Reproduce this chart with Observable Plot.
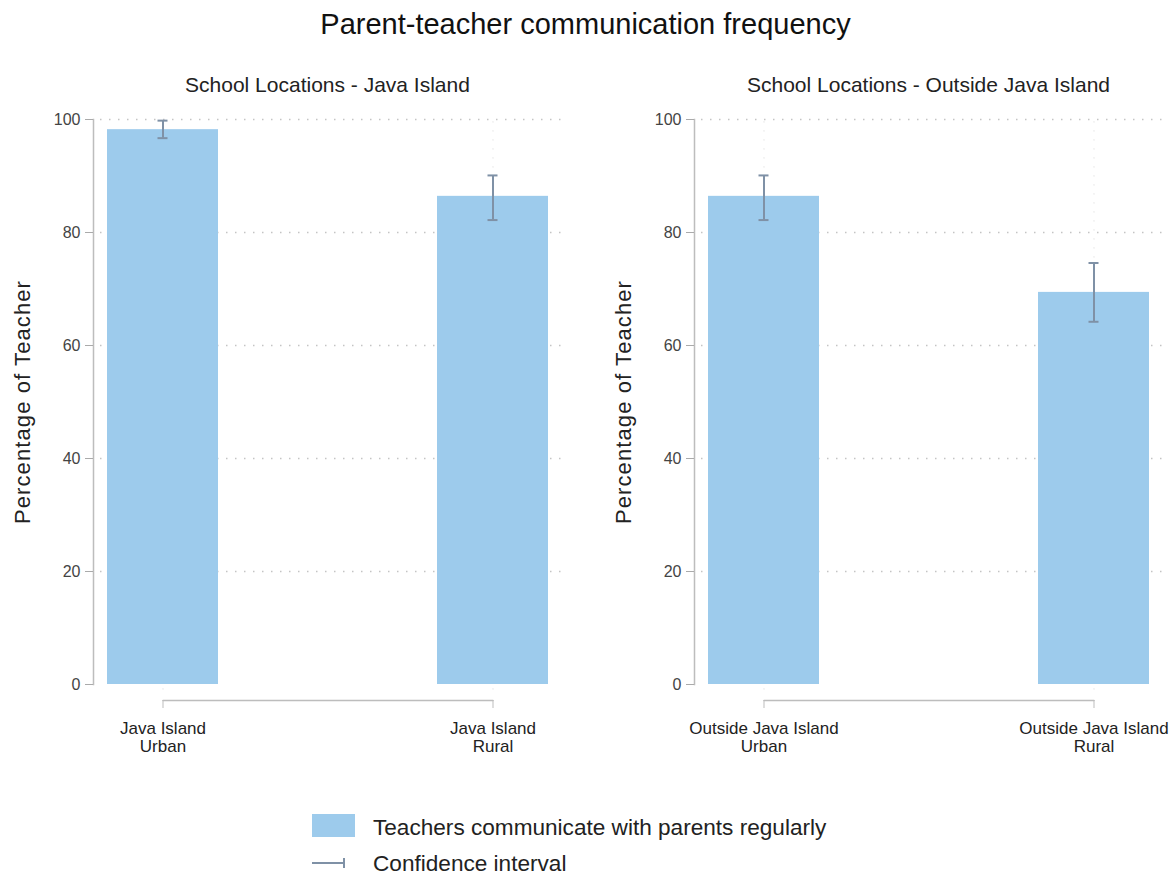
<!DOCTYPE html>
<html>
<head>
<meta charset="utf-8">
<script src="https://cdn.jsdelivr.net/npm/d3@7"></script>
<script src="https://cdn.jsdelivr.net/npm/@observablehq/plot@0.6"></script>
<style>
  body { margin: 0; background: #fff; font-family: "Liberation Sans", Arial, sans-serif; }
  #wrap { position: relative; width: 1171px; height: 876px; overflow: hidden; background: #fff; }
  #title { position: absolute; left: 0; top: 8px; width: 1171px; text-align: center; font-size: 29px; color: #111; line-height: normal; }
  .panel { position: absolute; top: 60px; width: 580px; height: 720px; }
  .panel svg { max-width: none !important; width: 580px; height: 720px; }
  #legend { position: absolute; left: 0; top: 800px; }
</style>
</head>
<body>
<div id="wrap">
  <div id="title">Parent-teacher communication frequency</div>
  <div class="panel" id="p1" style="left:0px"></div>
  <div class="panel" id="p2" style="left:601px"></div>
  <div id="legend"></div>
</div>
<script>
// ---- data ----
const panelTitles = ["School Locations - Java Island", "School Locations - Outside Java Island"];
const javaCategories = ["Java Island\nUrban", "Java Island\nRural"];
const javaValues = [98.2, 86.4];
const javaLower = [96.7, 82.2];
const javaUpper = [99.8, 90.1];
const outsideCategories = ["Outside Java Island\nUrban", "Outside Java Island\nRural"];
const outsideValues = [86.4, 69.4];
const outsideLower = [82.2, 64.2];
const outsideUpper = [90.1, 74.6];
const yTicks = [0, 20, 40, 60, 80, 100];
const yLabel = "Percentage of Teacher";
const legendLabels = ["Teachers communicate with parents regularly", "Confidence interval"];

// ---- styles ----
const barColor = "#9dcbec";
const ciColor = "#7f91a6";
const gridColor = "#c4c4c4";
const axisColor = "#bdbdbd";
const font = "'Liberation Sans', Arial, sans-serif";

function panel(title, cats, vals, lo, hi) {
  const data = cats.map((c, i) => ({cat: c, v: vals[i], lo: lo[i], hi: hi[i]}));
  const svg = Plot.plot({
    width: 580, height: 720,
    marginLeft: 93, marginRight: 19, marginTop: 59, marginBottom: 96,
    style: {fontFamily: font, fontSize: "16px", color: "#444", background: "transparent", overflow: "visible"},
    x: {domain: cats, paddingInner: 0.664, paddingOuter: 0.041, label: null},
    y: {domain: [0, 100], label: null},
    marks: [
      Plot.ruleY(yTicks.filter(t => t > 0), {insetLeft: 7, stroke: gridColor, strokeWidth: 1.3, strokeDasharray: "1.5,7.5"}),
      Plot.ruleX(data, {x: "cat", y1: () => -1, y2: () => 100, stroke: gridColor, strokeOpacity: 0.45, strokeWidth: 1, strokeDasharray: "1.5,7.5"}),
      Plot.barY(data, {x: "cat", y: "v", fill: barColor}),
      Plot.ruleX(data, {x: "cat", y1: "lo", y2: "hi", stroke: ciColor, strokeWidth: 2}),
      Plot.tickY(data, {x: "cat", y: "lo", insetLeft: 50.5, insetRight: 50.5, stroke: ciColor, strokeWidth: 2}),
      Plot.tickY(data, {x: "cat", y: "hi", insetLeft: 50.5, insetRight: 50.5, stroke: ciColor, strokeWidth: 2}),
      Plot.frame({anchor: "left", stroke: axisColor, strokeWidth: 1.5}),
      Plot.axisY(yTicks, {tickSize: 8, tickPadding: 5, stroke: "#aaa", fill: "#444", fontSize: 16, label: null}),
      Plot.line(data, {x: "cat", y: () => 0, dy: 16, stroke: axisColor, strokeWidth: 1.5}),
      Plot.axisX({tickSize: 8, dy: 16, tickPadding: 13, stroke: axisColor, fill: "#222", fontSize: 17, lineHeight: 1.06, label: null}),
      Plot.text([title], {frameAnchor: "top", lineAnchor: "middle", textAnchor: "middle", dy: -34, fontSize: 21, fill: "#222"}),
      Plot.text([yLabel], {frameAnchor: "left", lineAnchor: "middle", textAnchor: "middle", rotate: -90, dx: -71, fontSize: 22, fill: "#222"})
    ]
  });
  svg.querySelectorAll("text").forEach(t => {
    if (t.textContent === yLabel) t.style.letterSpacing = "1.1px";
  });
  return svg;
}

document.getElementById("p1").appendChild(panel(panelTitles[0], javaCategories, javaValues, javaLower, javaUpper));
document.getElementById("p2").appendChild(panel(panelTitles[1], outsideCategories, outsideValues, outsideLower, outsideUpper));

// ---- legend ----
const lg = d3.select("#legend").append("svg").attr("width", 1171).attr("height", 76)
  .style("font-family", font);
lg.append("rect").attr("x", 312).attr("y", 14).attr("width", 43).attr("height", 23).attr("fill", barColor);
lg.append("text").attr("x", 373).attr("y", 35).attr("font-size", 22.6).attr("fill", "#222").text(legendLabels[0]);
lg.append("line").attr("x1", 312).attr("x2", 344).attr("y1", 63).attr("y2", 63).attr("stroke", ciColor).attr("stroke-width", 2);
lg.append("line").attr("x1", 344).attr("x2", 344).attr("y1", 58).attr("y2", 68).attr("stroke", ciColor).attr("stroke-width", 2);
lg.append("text").attr("x", 373).attr("y", 71).attr("font-size", 22.6).attr("fill", "#222").text(legendLabels[1]);
</script>
</body>
</html>
